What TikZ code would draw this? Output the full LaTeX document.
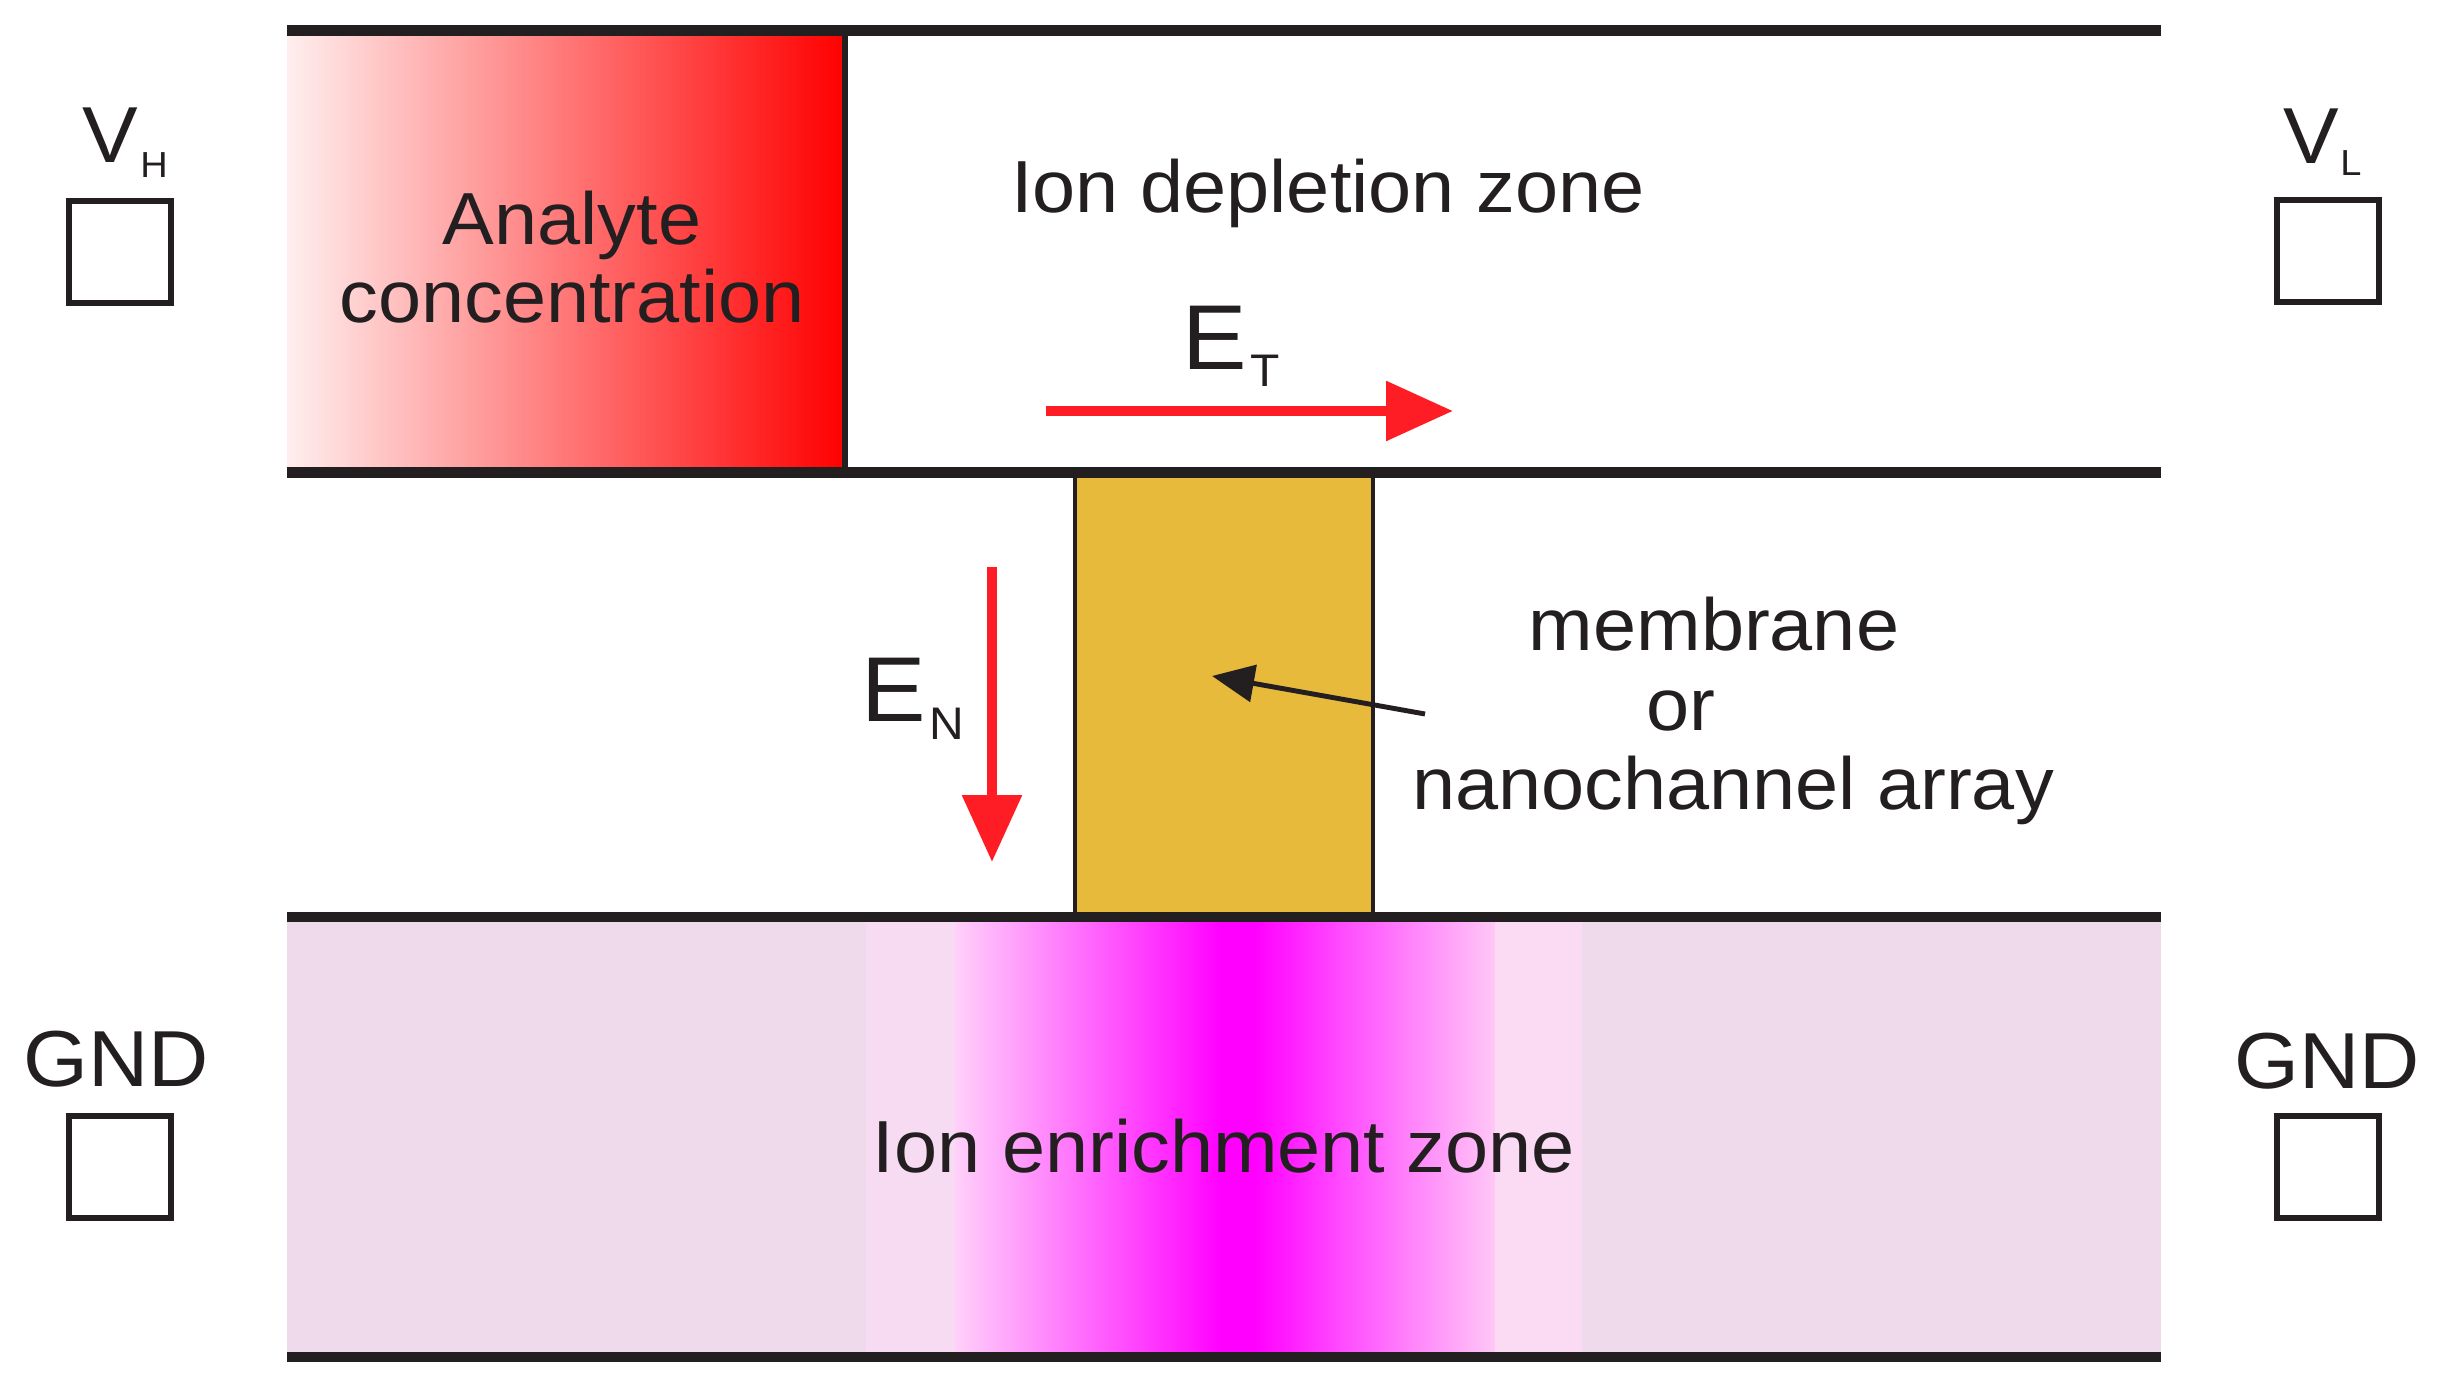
\documentclass[tikz,border=0pt]{standalone}
\usepackage{fontspec}
\setmainfont{Liberation Sans}[FakeStretch=1.05]
\usetikzlibrary{arrows.meta}
\definecolor{ink}{RGB}{35,31,32}
\definecolor{fieldred}{RGB}{255,29,37}
\definecolor{anapale}{RGB}{255,238,238}
\definecolor{anamid}{RGB}{255,140,140}
\definecolor{pinkbase}{RGB}{239,218,235}
\definecolor{pinklightL}{RGB}{246,219,243}
\definecolor{pinklightR}{RGB}{251,218,244}
\definecolor{pinkstartL}{RGB}{255,208,250}
\definecolor{pinkmidR}{RGB}{255,70,255}
\definecolor{pinkendR}{RGB}{255,200,246}
\definecolor{magentafull}{RGB}{255,0,255}
\definecolor{membranefill}{RGB}{232,186,60}
\tikzset{
  wall/.style={draw=ink, line width=3.1pt},
  termbox/.style={draw=ink, line width=1.7pt, fill=white, minimum width=29pt, minimum height=29pt, inner sep=0pt},
  txt/.style={inner sep=0pt, text=ink, anchor=base, font=\fontsize{21}{25}\selectfont},
  bigtxt/.style={txt, font=\fontsize{22.6}{27}\selectfont},
  etxt/.style={txt, font=\fontsize{26.2}{30}\selectfont},
  subtxt/.style={txt, font=\fontsize{13}{15}\selectfont},
  smallsub/.style={txt, font=\fontsize{10.3}{12}\selectfont},
  fieldarrow/.style={draw=fieldred, line width=2.8pt, -{Triangle[length=19pt,width=16.4pt]}},
  pointer/.style={draw=ink, line width=1.4pt, -{Triangle[length=12pt,width=10.5pt]}}
}
\begin{document}
\begin{tikzpicture}[x=0.1mm,y=-0.1mm]
\useasboundingbox (0,0) rectangle (2445,1394);
\fill[white] (0,0) rectangle (2445,1394);

% analyte concentration gradient
\shade[left color=anapale, middle color=anamid, right color=red] (287,30) rectangle (845,473);

% ion enrichment zone
\fill[pinkbase] (287,917) rectangle (2161,1357);
\fill[pinklightL] (866,917) rectangle (956,1357);
\shade[left color=pinkstartL, right color=magentafull] (955,917) rectangle (1222,1357);
\fill[magentafull] (1221,917) rectangle (1256,1357);
\shade[left color=magentafull, right color=pinkmidR] (1255,917) rectangle (1336,1357);
\shade[left color=pinkmidR, right color=pinkendR] (1335,917) rectangle (1496,1357);
\fill[pinklightR] (1495,917) rectangle (1582,1357);

% membrane
\filldraw[fill=membranefill, draw=ink, line width=1pt] (1075,473) rectangle (1373,917);

% analyte divider
\draw[ink, line width=1.7pt] (845,30) -- (845,473);

% channel walls
\draw[wall] (287,30.5) -- (2161,30.5);
\draw[wall] (287,472.5) -- (2161,472.5);
\draw[wall] (287,917) -- (2161,917);
\draw[wall] (287,1357) -- (2161,1357);

% texts
\node[txt] (analyteA) at (572,245) {Analyte};
\node[txt] (analyteB) at (572,323) {concentration};
\node[txt] (depletion) at (1328,213) {Ion depletion zone};
\node[txt] (enrichment) at (1224,1173) {Ion enrichment zone};
\node[txt] (memA) at (1714,651) {membrane};
\node[txt] (memB) at (1681,731) {or};
\node[txt] (memC) at (1733,810) {nanochannel array};

% field labels
\node[etxt] (ET) at (1215,370) {E};
\node[subtxt] (ETs) at (1265,387) {T};
\node[etxt] (EN) at (894,722) {E};
\node[subtxt] (ENs) at (947,740) {N};

% field arrows
\coordinate (etA) at (1046,411);
\coordinate (etB) at (1453,411);
\draw[fieldarrow] (etA) -- (etB);
\coordinate (enA) at (992,567);
\coordinate (enB) at (992,862);
\draw[fieldarrow] (enA) -- (enB);

% pointer to membrane
\coordinate (ptrA) at (1425,714);
\coordinate (ptrB) at (1212,676);
\draw[pointer] (ptrA) -- (ptrB);

% terminals
\node[termbox] (vhbox) at (120,252) {};
\node[termbox] (gndLbox) at (120,1167) {};
\node[termbox] (vlbox) at (2328,251) {};
\node[termbox] (gndRbox) at (2328,1167) {};

\node[bigtxt] (VH) at (110,163) {V};
\node[smallsub] (VHs) at (154,178) {H};
\node[bigtxt] (VL) at (2311,164) {V};
\node[smallsub] (VLs) at (2351,176) {L};
\node[bigtxt] (gndL) at (116,1087) {GND};
\node[bigtxt] (gndR) at (2327,1089) {GND};
\end{tikzpicture}
\end{document}
